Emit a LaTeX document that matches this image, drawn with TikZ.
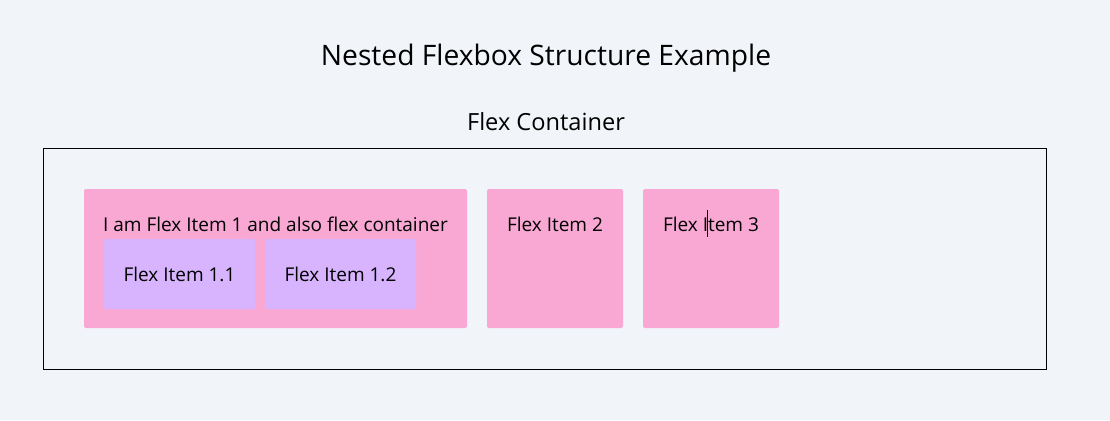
\documentclass[tikz,border=0pt]{standalone}
\usepackage{fontspec}
\setmainfont{Open Sans}
\definecolor{bgc}{HTML}{F1F4F9}
\definecolor{pinkc}{HTML}{F9A8D4}
\definecolor{purplec}{HTML}{D8B4FE}
\begin{document}
\begin{tikzpicture}[x=1pt,y=-1pt,
  itembox/.style={fill=pinkc,rounded corners=2pt},
  subbox/.style={fill=purplec,rounded corners=2pt},
  lbl/.style={anchor=base,inner sep=0pt,font=\fontsize{19}{21}\selectfont},
]
\fill[bgc] (0,0) rectangle (1110,420);
\useasboundingbox (0,0) rectangle (1110,420);
\node[anchor=base,inner sep=0pt,font=\fontsize{28.2}{31}\selectfont] (title) at (546,65) {Nested Flexbox Structure Example};
\node[anchor=base,inner sep=0pt,font=\fontsize{23.6}{26}\selectfont] (ctitle) at (546,130.5) {Flex Container};
\draw[black,line width=0.8pt] (43.5,148.5) rectangle (1046.5,369.5);
\path[itembox] (84,189) rectangle (467,328);
\path[subbox] (104,239) rectangle (255,309);
\path[subbox] (265,239) rectangle (416,309);
\path[itembox] (487,189) rectangle (623,328);
\path[itembox] (643,189) rectangle (779,328);
\node[lbl] (t1) at (275.5,231.5) {I am Flex Item 1 and also flex container};
\node[lbl] (t11) at (179.5,281.5) {Flex Item 1.1};
\node[lbl] (t12) at (340.5,281.5) {Flex Item 1.2};
\node[lbl] (t2) at (555,231.5) {Flex Item 2};
\node[lbl] (t3) at (711,231.5) {Flex Item 3};
\draw[black,line width=0.8pt] (707.5,210) -- (707.5,237);
\end{tikzpicture}
\end{document}
